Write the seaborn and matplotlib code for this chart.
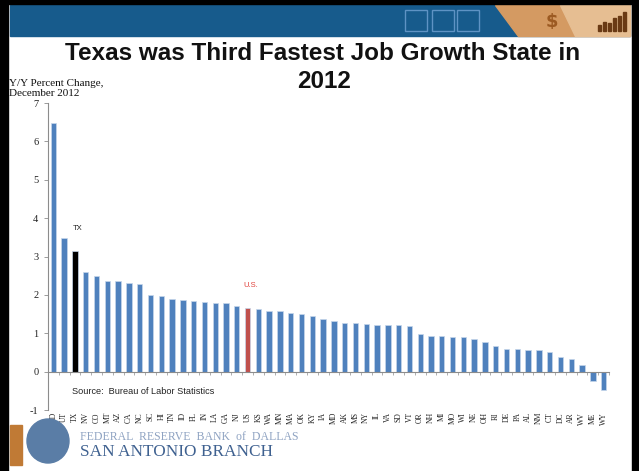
import matplotlib
matplotlib.use('Agg')
import matplotlib.pyplot as plt
import seaborn as sns
import pandas as pd
from matplotlib.patches import Rectangle, Polygon, Ellipse

# ---- data ----
states = ['ND', 'UT', 'TX', 'NV', 'CO', 'MT', 'AZ', 'CA', 'NC', 'SC', 'HI', 'TN', 'ID',
          'FL', 'IN', 'LA', 'GA', 'NJ', 'US', 'KS', 'WA', 'MN', 'MA', 'OK', 'KY', 'IA',
          'MD', 'AK', 'MS', 'NY', 'IL', 'VA', 'SD', 'VT', 'OR', 'NH', 'MI', 'MO', 'WI',
          'NE', 'OH', 'RI', 'DE', 'PA', 'AL', 'NM', 'CT', 'DC', 'AR', 'WV', 'ME', 'WY']
values = [6.47, 3.48, 3.15, 2.59, 2.48, 2.37, 2.36, 2.31, 2.29, 2.00, 1.98, 1.90, 1.87,
          1.85, 1.82, 1.80, 1.78, 1.72, 1.66, 1.64, 1.59, 1.57, 1.53, 1.51, 1.45, 1.37,
          1.31, 1.26, 1.26, 1.24, 1.22, 1.21, 1.21, 1.18, 0.97, 0.92, 0.92, 0.91, 0.90,
          0.86, 0.76, 0.67, 0.60, 0.59, 0.57, 0.56, 0.52, 0.37, 0.33, 0.17, -0.24, -0.49]
yticks = [-1, 0, 1, 2, 3, 4, 5, 6, 7]
base_color = '#4F81BD'
highlight = {'TX': '#000000', 'US': '#C0504D'}
labels = {'TX': ('TX', '#222222'), 'US': ('U.S.', '#E0403A')}

sns.set_theme(style='white')
plt.rcParams['font.family'] = ['DejaVu Sans']

W, H = 639, 471
fig = plt.figure(figsize=(W / 100, H / 100), dpi=100)

def fx(px):
    return px / W

def fy(py):
    return 1 - py / H

# ---- slide decoration ----
fig.patches.append(Rectangle((fx(10), fy(36)), fx(620), 31 / H, color='#175B8C',
                             transform=fig.transFigure, zorder=0))
fig.patches.append(Polygon([(fx(495), fy(5)), (fx(630), fy(5)), (fx(630), fy(36)), (fx(518), fy(36))],
                           closed=True, color='#D49A62', transform=fig.transFigure, zorder=0))
fig.patches.append(Polygon([(fx(560), fy(5)), (fx(630), fy(5)), (fx(630), fy(36)), (fx(575), fy(36))],
                           closed=True, color='#E6BE92', transform=fig.transFigure, zorder=0))
for x0 in (405, 432, 457):
    fig.patches.append(Rectangle((fx(x0), fy(31)), 22 / W, 21 / H, fill=False, ec='#5E93C4',
                                 lw=1.0, transform=fig.transFigure, zorder=1))
fig.text(fx(552), fy(22), '$', color='#9C5A22', fontsize=13, weight='bold', ha='center', va='center')
for i, hgt in enumerate([6, 9, 8, 13, 15, 19]):
    fig.patches.append(Rectangle((fx(598 + i * 5), fy(31)), 3 / W, hgt / H, color='#6A3A14',
                                 transform=fig.transFigure, zorder=1))

# black frame
fig.patches.append(Rectangle((0, 0), fx(8), 1, color='black', transform=fig.transFigure, zorder=2))
fig.patches.append(Rectangle((0, fy(4)), 1, 4 / H, color='black', transform=fig.transFigure, zorder=2))
fig.patches.append(Rectangle((fx(632), 0), fx(7), 1, color='black', transform=fig.transFigure, zorder=2))

# bottom logo
fig.patches.append(Rectangle((fx(10), fy(465)), 12 / W, 40 / H, color='#C07A35',
                             transform=fig.transFigure, zorder=1))
fig.patches.append(Ellipse((fx(48), fy(441)), 42 / W, 44 / H, color='#5A7DA6',
                           transform=fig.transFigure, zorder=1))
fig.text(fx(80), fy(437), 'FEDERAL  RESERVE  BANK  of  DALLAS', color='#8FA3C2', fontsize=8.5,
         family='Liberation Serif', ha='left', va='center')
fig.text(fx(80), fy(452), 'SAN ANTONIO BRANCH', color='#3F6190', fontsize=12.4,
         family='Liberation Serif', ha='left', va='center')

# titles
fig.text(fx(323), fy(53), 'Texas was Third Fastest Job Growth State in', ha='center', va='center',
         weight='bold', family='Liberation Sans', fontsize=17.5, color='#111111')
fig.text(fx(324), fy(82), '2012', ha='center', va='center',
         weight='bold', family='Liberation Sans', fontsize=17.5, color='#111111')
fig.text(fx(9), fy(79), 'Y/Y Percent Change,\nDecember 2012', ha='left', va='top',
         family='Liberation Serif', fontsize=8, linespacing=1.15, color='#111111')

# ---- chart ----
ax = fig.add_axes([fx(48), fy(410), (609 - 48) / W, (410 - 103) / H])
ax.set_facecolor('none')
df = pd.DataFrame({'state': states, 'value': values})
palette = {s: highlight.get(s, base_color) for s in states}
sns.barplot(data=df, x='state', y='value', hue='state', palette=palette, legend=False,
            width=0.5, saturation=1, ax=ax, edgecolor='#C6D6EA', linewidth=0.5)

ax.set_xlim(-0.5, len(states) - 0.5)
ax.set_ylim(yticks[0], yticks[-1])
ax.set_yticks(yticks)
ax.set_yticklabels([str(t) for t in yticks], family='Liberation Serif', fontsize=7.5, color='#222222')
ax.set_xlabel('')
ax.set_ylabel('')

for sp in ('top', 'right'):
    ax.spines[sp].set_visible(False)
ax.spines['left'].set_color('#8C8C8C')
ax.spines['left'].set_linewidth(0.8)
ax.spines['bottom'].set_position(('data', 0))
ax.spines['bottom'].set_color('#8C8C8C')
ax.spines['bottom'].set_linewidth(0.8)
ax.tick_params(axis='y', direction='out', length=3, width=0.6, color='#8C8C8C', pad=4, left=True)
ax.set_xticks(range(len(states)))
ax.tick_params(axis='x', which='major', length=0, labelbottom=False)
ax.set_xticks([i - 0.5 for i in range(len(states) + 1)], minor=True)
ax.tick_params(axis='x', which='minor', direction='out', length=2.5, width=0.6, color='#A0A0A0', bottom=True)

sec = ax.secondary_xaxis('bottom')
sec.set_xticks(range(len(states)))
sec.set_xticklabels(states, rotation=90, family='Liberation Serif', fontsize=5.5, color='#222222')
sec.tick_params(length=0, pad=1.5)
sec.spines['bottom'].set_visible(False)

for s, (txt, col) in labels.items():
    i = states.index(s)
    ax.annotate(txt, xy=(i, values[i]), xytext=(2, 16), textcoords='offset points',
                ha='center', va='center', fontsize=5.5, color=col, family='Liberation Sans')

fig.text(fx(72), fy(392), 'Source:  Bureau of Labor Statistics', ha='left', va='center',
         fontsize=6.6, family='Liberation Sans', color='#222222')

fig.savefig('out.png', dpi=100)
